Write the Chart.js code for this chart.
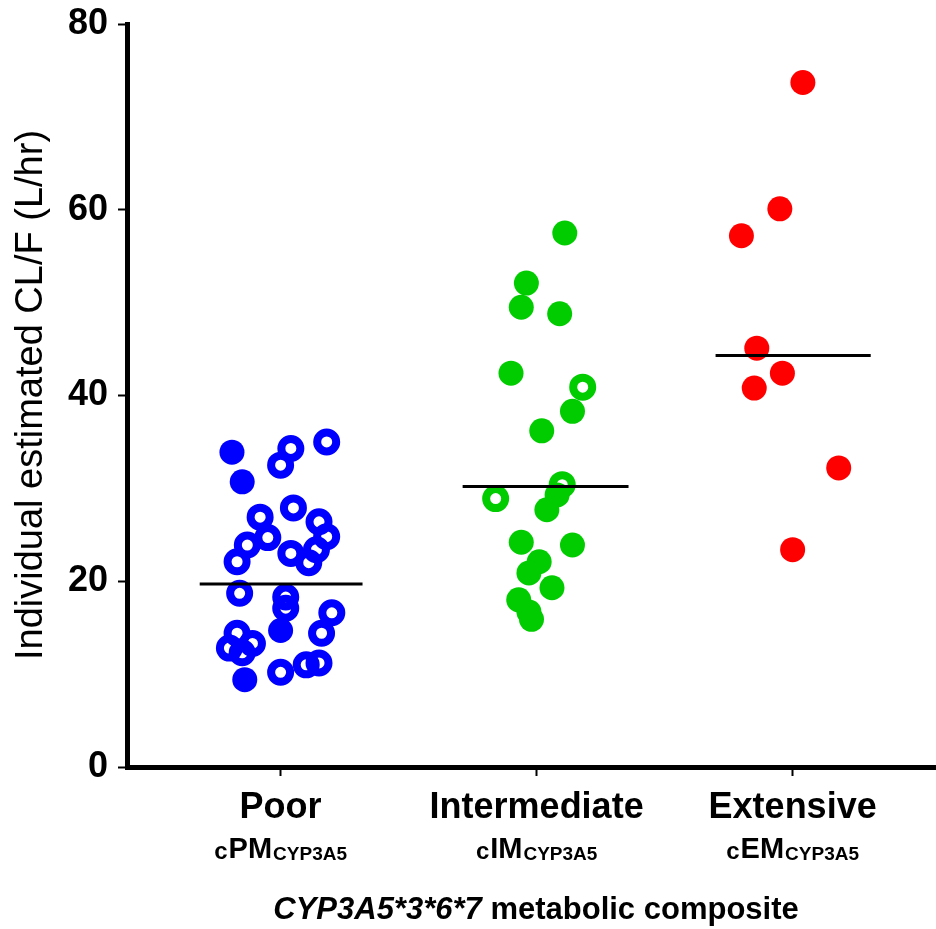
<!DOCTYPE html>
<html>
<head>
<meta charset="utf-8">
<script src="https://cdn.jsdelivr.net/npm/chart.js@4.4.0/dist/chart.umd.min.js"></script>
<style>
html,body{margin:0;padding:0;background:#fff;}
#wrap{width:936px;height:929px;position:relative;}
</style>
</head>
<body>
<div id="wrap"><canvas id="c" width="936" height="929"></canvas></div>
<script>
// ---- data ----
const categories = ['Poor', 'Intermediate', 'Extensive'];
const subPrefix = 'c';
const subMain = ['PM', 'IM', 'EM'];
const subSuffix = 'CYP3A5';
const catPos = [1, 2, 3];
const yTicks = [0, 20, 40, 60, 80];
const yTitle = 'Individual estimated CL/F (L/hr)';
const xTitleItalic = 'CYP3A5*3*6*7';
const xTitleRest = ' metabolic composite';

const poorFilledY  = [33.9, 30.7, 14.7, 9.4];
const poorFilledDx = [-0.19, -0.15, 0.00, -0.14];
const poorOpenY  = [32.5, 34.3, 35.0, 26.9, 27.9, 26.4, 23.9, 22.1, 23.0, 23.4, 24.8, 22.0, 24.7, 18.7, 18.3, 17.1, 16.6, 14.4, 14.4, 12.8, 13.3, 12.3, 10.2, 11.0, 11.2];
const poorOpenDx = [0.00, 0.04, 0.18, -0.08, 0.05, 0.15, -0.13, -0.17, 0.04, 0.14, 0.18, 0.11, -0.05, -0.16, 0.02, 0.02, 0.20, 0.16, -0.17, -0.20, -0.11, -0.15, 0.00, 0.10, 0.15];

const intFilledY  = [57.5, 52.1, 49.5, 48.8, 42.4, 38.3, 36.2, 29.3, 27.7, 24.2, 23.9, 22.1, 20.9, 19.3, 18.0, 16.7, 15.9];
const intFilledDx = [0.11, -0.04, -0.06, 0.09, -0.10, 0.14, 0.02, 0.08, 0.04, -0.06, 0.14, 0.01, -0.03, 0.06, -0.07, -0.03, -0.02];
const intOpenY  = [40.9, 30.4, 28.9];
const intOpenDx = [0.18, 0.10, -0.16];

const extFilledY  = [73.7, 60.1, 57.2, 45.1, 42.4, 40.8, 32.2, 23.4];
const extFilledDx = [0.04, -0.05, -0.20, -0.14, -0.04, -0.15, 0.18, 0.00];

const means = [19.7, 30.2, 44.3];
const meanLeft  = [0.684, 1.711, 2.699];
const meanRight = [1.320, 2.359, 3.305];

const colors = ['#0000ff', '#00cc00', '#ff0000'];

// ---- build datasets ----
function pts(center, ys, dxs) {
  return ys.map((y, i) => ({ x: center + dxs[i], y: y }));
}
function filledSet(data, color) {
  return { type: 'scatter', data, order: 2, pointRadius: 12.5, pointHoverRadius: 12.5,
    backgroundColor: color, borderColor: color, borderWidth: 0 };
}
function openSet(data, color) {
  return { type: 'scatter', data, order: 1, pointRadius: 9.5, pointHoverRadius: 9.5,
    backgroundColor: 'rgba(0,0,0,0)', borderColor: color, borderWidth: 8 };
}
const datasets = [
  filledSet(pts(catPos[0], poorFilledY, poorFilledDx), colors[0]),
  openSet(pts(catPos[0], poorOpenY, poorOpenDx), colors[0]),
  filledSet(pts(catPos[1], intFilledY, intFilledDx), colors[1]),
  openSet(pts(catPos[1], intOpenY, intOpenDx), colors[1]),
  filledSet(pts(catPos[2], extFilledY, extFilledDx), colors[2])
];
means.forEach((m, i) => {
  datasets.push({ type: 'line', order: 0, data: [{ x: meanLeft[i], y: m }, { x: meanRight[i], y: m }],
    borderColor: '#000', borderWidth: 3, pointRadius: 0, fill: false });
});

const labelPlugin = {
  id: 'labels',
  afterDraw(chart) {
    const ctx = chart.ctx;
    const xs = chart.scales.x;
    ctx.save();
    ctx.fillStyle = '#000';
    ctx.textBaseline = 'alphabetic';
    // category names
    ctx.font = 'bold 36px "Liberation Sans", Arial, sans-serif';
    ctx.textAlign = 'center';
    categories.forEach((c, i) => {
      ctx.fillText(c, xs.getPixelForValue(catPos[i]), 818);
    });
    // composite sub labels
    ctx.textAlign = 'left';
    categories.forEach((c, i) => {
      const fP = 'bold 24px "Liberation Sans", Arial, sans-serif';
      const fM = 'bold 29px "Liberation Sans", Arial, sans-serif';
      const fS = 'bold 19px "Liberation Sans", Arial, sans-serif';
      ctx.font = fP; const wP = ctx.measureText(subPrefix).width;
      ctx.font = fM; const wM = ctx.measureText(subMain[i]).width;
      ctx.font = fS; const wS = ctx.measureText(subSuffix).width;
      let x = xs.getPixelForValue(catPos[i]) - (wP + wM + wS + 2) / 2;
      ctx.font = fP; ctx.fillText(subPrefix, x, 859); x += wP + 1;
      ctx.font = fM; ctx.fillText(subMain[i], x, 858); x += wM + 1;
      ctx.font = fS; ctx.fillText(subSuffix, x, 860);
    });
    // x title
    const fI = 'italic bold 31px "Liberation Sans", Arial, sans-serif';
    const fR = 'bold 31px "Liberation Sans", Arial, sans-serif';
    ctx.font = fI; const w1 = ctx.measureText(xTitleItalic).width;
    ctx.font = fR; const w2 = ctx.measureText(xTitleRest).width;
    let x0 = 536 - (w1 + w2) / 2;
    ctx.font = fI; ctx.fillText(xTitleItalic, x0, 919);
    ctx.font = fR; ctx.fillText(xTitleRest, x0 + w1, 919);
    // y title
    ctx.translate(42, 395);
    ctx.rotate(-Math.PI / 2);
    ctx.textAlign = 'center';
    ctx.font = '38px "Liberation Sans", Arial, sans-serif';
    ctx.fillText(yTitle, 0, 0);
    ctx.restore();
  }
};

new Chart(document.getElementById('c'), {
  data: { datasets },
  options: {
    responsive: false,
    animation: false,
    layout: { autoPadding: false, padding: { top: 24, right: 0, left: 0, bottom: 0 } },
    plugins: { legend: { display: false }, tooltip: { enabled: false } },
    scales: {
      x: {
        type: 'linear', min: 0.4, max: 3.56,
        afterBuildTicks(axis) { axis.ticks = catPos.map(v => ({ value: v })); },
        afterFit(scale) { scale.height = 162; scale.paddingLeft = 0; scale.paddingRight = 0; },
        ticks: { display: false },
        grid: { display: true, drawOnChartArea: false, drawTicks: true, tickLength: 9, tickWidth: 2, tickColor: '#000', color: '#000' },
        border: { display: true, color: '#000', width: 5 }
      },
      y: {
        type: 'linear', min: 0, max: 80,
        afterBuildTicks(axis) { axis.ticks = yTicks.map(v => ({ value: v })); },
        afterFit(scale) { scale.width = 127; scale.paddingTop = 0; scale.paddingBottom = 0; },
        ticks: { color: '#000', padding: 10, font: { family: '"Liberation Sans", Arial, sans-serif', size: 36, weight: 'bold' } },
        grid: { display: true, drawOnChartArea: false, drawTicks: true, tickLength: 9, tickWidth: 2, tickColor: '#000', color: '#000' },
        border: { display: true, color: '#000', width: 5 }
      }
    }
  },
  plugins: [labelPlugin]
});
</script>
</body>
</html>
